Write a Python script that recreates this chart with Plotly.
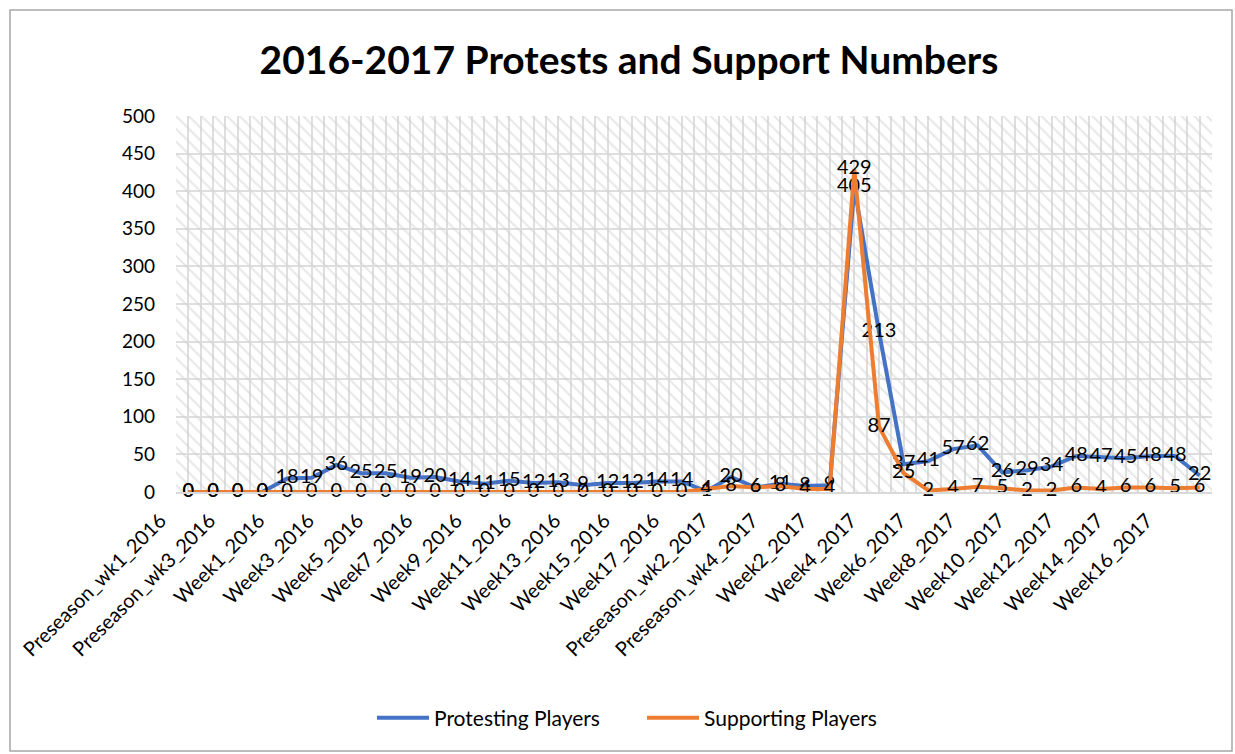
import plotly.graph_objects as go

categories = (
    ["Preseason_wk%d_2016" % i for i in range(1, 5)]
    + ["Week%d_2016" % i for i in range(1, 18)]
    + ["Preseason_wk%d_2017" % i for i in range(1, 5)]
    + ["Week%d_2017" % i for i in range(1, 18)]
)

protesting = [0, 0, 0, 0,
              18, 19, 36, 25, 25, 19, 20, 14, 11, 15, 12, 13, 9, 12, 12, 14, 14,
              1, 20, 6, 11,
              8, 9, 405, 213, 37, 41, 57, 62, 26, 29, 34, 48, 47, 45, 48, 48, 22]
supporting = [0, 0, 0, 0,
              0, 0, 0, 0, 0, 0, 0, 0, 0, 0, 0, 0, 0, 0, 0, 0, 0,
              4, 8, 6, 8,
              4, 4, 429, 87, 25, 2, 4, 7, 5, 2, 2, 6, 4, 6, 6, 5, 6]

series_names = ["Protesting Players", "Supporting Players"]
colors = ["#4472C4", "#ED7D31"]
title_text = "2016-2017 Protests and Support Numbers"

FONT = "Lato"
W, H = 1235, 754
ML, MR, MT, MB = 176, 23, 116, 262
plot_w = W - ML - MR
plot_h = H - MT - MB

idx = list(range(len(categories)))

fig = go.Figure()

# hatched plot-area background (decoration, on hidden main axes)
fig.add_trace(go.Scatter(
    x=[0, 1, 1, 0, 0], y=[0, 0, 1, 1, 0], mode="lines", line=dict(width=0),
    fill="toself", fillcolor="rgba(0,0,0,0)",
    fillpattern=dict(shape="\\", size=9, solidity=0.22, fgcolor="#cfcfcf",
                     bgcolor="rgba(255,255,255,0)"),
    hoverinfo="skip", showlegend=False, xaxis="x", yaxis="y"))

for name, vals, col in zip(series_names, [protesting, supporting], colors):
    fig.add_trace(go.Scatter(
        x=idx, y=vals, name=name, mode="lines+text",
        line=dict(color=col, width=4),
        text=[str(v) for v in vals], textposition="middle center",
        textfont=dict(family=FONT, size=20, color="#000000"),
        xaxis="x2", yaxis="y2", cliponaxis=False))

def px_x(p):
    return (p - ML) / plot_w

def px_y(p):
    return (H - MB - p) / plot_h

fig.update_layout(
    width=W, height=H,
    margin=dict(l=ML, r=MR, t=MT, b=MB),
    paper_bgcolor="white", plot_bgcolor="white",
    font=dict(family=FONT, color="#000000"),
    title=dict(text="<b>%s</b>" % title_text, x=629 / W, xanchor="center",
               y=1 - 60 / H, yanchor="middle",
               font=dict(family=FONT, size=39, color="#000000")),
    xaxis=dict(range=[0, 1], visible=False, showgrid=False, fixedrange=True),
    yaxis=dict(range=[0, 1], visible=False, showgrid=False, fixedrange=True),
    xaxis2=dict(
        overlaying="x", anchor="y2", side="bottom",
        range=[-0.5, len(categories) - 0.5],
        tickmode="array", tickvals=idx[::2], ticktext=categories[::2],
        tickangle=-45, tickfont=dict(family=FONT, size=20, color="#000000"),
        ticks="", ticklabelshift=-28, ticklabelstandoff=7,
        showgrid=True, gridcolor="#dedede", gridwidth=2,
        minor=dict(tickmode="linear", tick0=-0.5, dtick=0.5, showgrid=True,
                   gridcolor="#dedede", gridwidth=2),
        showline=True, linecolor="#d9d9d9", linewidth=2, zeroline=False),
    yaxis2=dict(
        overlaying="y", anchor="x2", side="left",
        range=[0, 500], dtick=50, tickmode="linear", tick0=0,
        tickfont=dict(family=FONT, size=19, color="#000000"),
        ticklabelstandoff=20,
        showgrid=True, gridcolor="#dedede", gridwidth=2,
        showline=False, zeroline=False),
    legend=dict(orientation="h", x=px_x(372), xanchor="left",
                y=px_y(718), yanchor="middle",
                font=dict(family=FONT, size=21, color="#000000"),
                itemwidth=52, entrywidth=203, entrywidthmode="pixels",
                tracegroupgap=0, bgcolor="rgba(0,0,0,0)"),
    shapes=[dict(type="rect", xref="paper", yref="paper",
                 x0=px_x(10), x1=px_x(1232), y0=px_y(10), y1=px_y(751),
                 line=dict(color="#a6a6a6", width=1.5), layer="below")],
)

fig.write_html("out.html")
